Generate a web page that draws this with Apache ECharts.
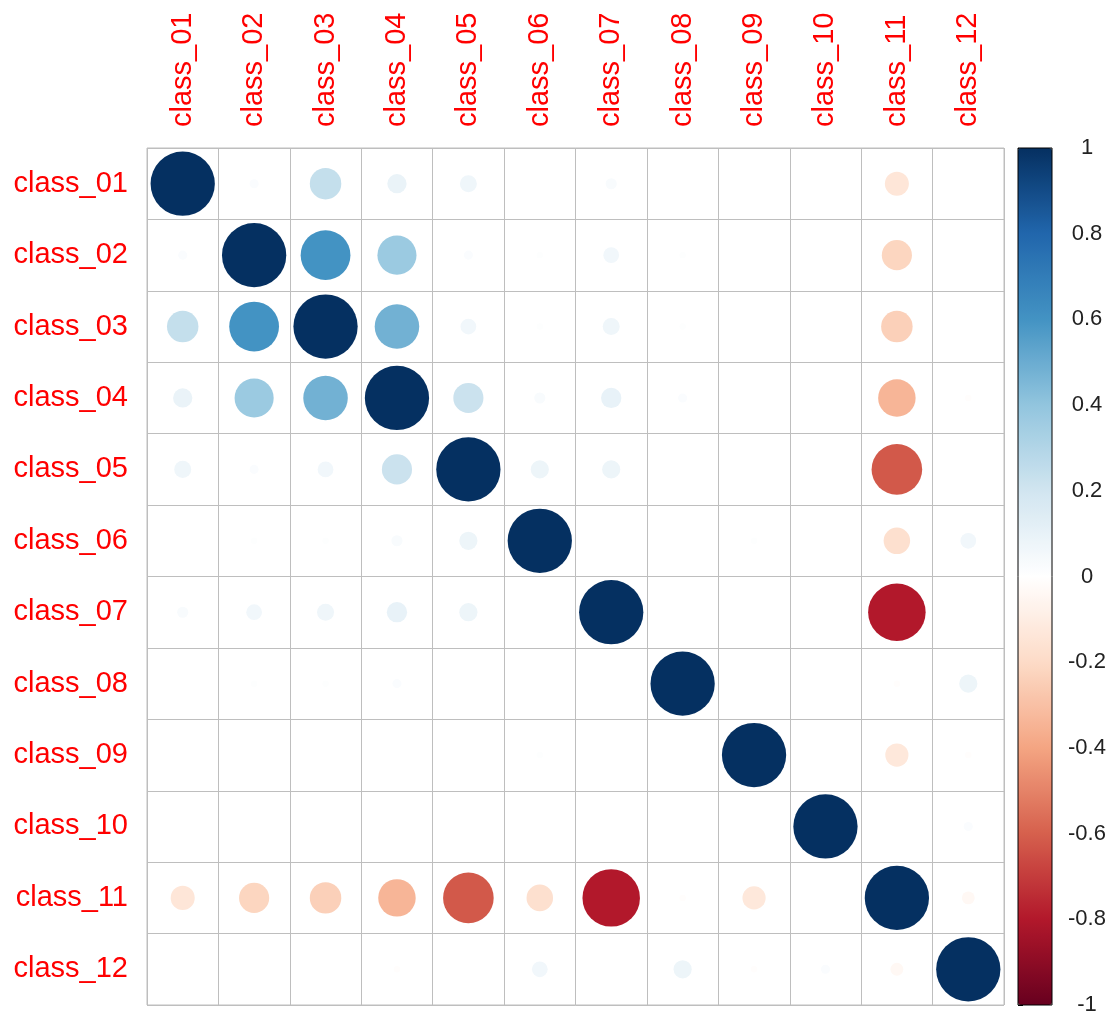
<!DOCTYPE html>
<html>
<head>
<meta charset="utf-8">
<script src="https://cdn.jsdelivr.net/npm/echarts@6/dist/echarts.min.js"></script>
<style>
html,body{margin:0;padding:0;background:#fff;}
#chart{width:1118px;height:1016px;}
</style>
</head>
<body>
<div id="chart"></div>
<script>
const classes = ['class_01','class_02','class_03','class_04','class_05','class_06','class_07','class_08','class_09','class_10','class_11','class_12'];

const r01 = [1, 0.02, 0.24, 0.09, 0.07, 0, 0.03, 0, 0, 0, -0.14, 0];
const r02 = [0.02, 1, 0.60, 0.37, 0.02, 0.01, 0.06, 0.01, 0, 0, -0.22, 0];
const r03 = [0.24, 0.60, 1, 0.48, 0.06, 0.01, 0.07, 0.01, 0, 0, -0.24, 0];
const r04 = [0.09, 0.37, 0.48, 1, 0.22, 0.03, 0.10, 0.02, 0, 0, -0.34, -0.01];
const r05 = [0.07, 0.02, 0.06, 0.22, 1, 0.08, 0.08, 0, 0, 0, -0.62, 0];
const r06 = [0, 0.01, 0.01, 0.03, 0.08, 1, 0, 0, 0.01, 0, -0.17, 0.06];
const r07 = [0.03, 0.06, 0.07, 0.10, 0.08, 0, 1, 0, 0, 0, -0.80, 0];
const r08 = [0, 0.01, 0.01, 0.02, 0, 0, 0, 1, 0, 0, -0.01, 0.08];
const r09 = [0, 0, 0, 0, 0, 0.01, 0, 0, 1, 0, -0.13, -0.01];
const r10 = [0, 0, 0, 0, 0, 0, 0, 0, 0, 1, 0, 0.02];
const r11 = [-0.14, -0.22, -0.24, -0.34, -0.62, -0.17, -0.80, -0.01, -0.13, 0, 1, -0.04];
const r12 = [0, 0, 0, -0.01, 0, 0.06, 0, 0.08, -0.01, 0.02, -0.04, 1];

const rows = [r01, r02, r03, r04, r05, r06, r07, r08, r09, r10, r11, r12];

const palette = ['#67001F','#B2182B','#D6604D','#F4A582','#FDDBC7','#FFFFFF','#D1E5F0','#92C5DE','#4393C3','#2166AC','#053061'];

const GRID_SIZE = 857;
const CELL = GRID_SIZE / classes.length;

const points = [];
rows.forEach(function (row, i) {
  row.forEach(function (v, j) {
    if (v !== 0) points.push([classes[j], classes[i], v]);
  });
});

const chart = echarts.init(document.getElementById('chart'), null, {renderer: 'canvas'});
const labelFont = 'Liberation Sans';

chart.setOption({
  backgroundColor: '#ffffff',
  animation: false,
  grid: [
    {left: 147, top: 148, width: GRID_SIZE, height: GRID_SIZE, show: true, borderColor: '#BEBEBE', borderWidth: 1, backgroundColor: 'transparent'},
    {left: 1018, top: 148, width: 34, height: GRID_SIZE, show: true, borderColor: '#000', borderWidth: 1, backgroundColor: 'transparent', z: 10}
  ],
  xAxis: [
    {
      type: 'category', gridIndex: 0, data: classes, position: 'top',
      axisLine: {show: false}, axisTick: {show: false},
      splitLine: {show: true, interval: 0, lineStyle: {color: '#BEBEBE', width: 1}},
      axisLabel: {rotate: -90, interval: 0, color: '#FF0000', fontSize: 29, fontFamily: labelFont, margin: 21}
    },
    {type: 'value', gridIndex: 1, show: false, min: 0, max: 1}
  ],
  yAxis: [
    {
      type: 'category', gridIndex: 0, data: classes, inverse: true,
      axisLine: {show: false}, axisTick: {show: false},
      splitLine: {show: true, interval: 0, lineStyle: {color: '#BEBEBE', width: 1}},
      axisLabel: {interval: 0, color: '#FF0000', fontSize: 29, fontFamily: labelFont, margin: 19}
    },
    {
      type: 'value', gridIndex: 1, min: -1, max: 1, interval: 0.2, position: 'right',
      axisLine: {show: false},
      axisTick: {show: true, length: 5, lineStyle: {color: '#000', width: 1}},
      splitLine: {show: false},
      axisLabel: {color: '#222', fontSize: 22, fontFamily: labelFont, align: 'center', margin: 35}
    }
  ],
  visualMap: {
    type: 'continuous', min: -1, max: 1, dimension: 2, seriesIndex: 0,
    calculable: false, realtime: false, hoverLink: false,
    left: 1018, top: 148, itemWidth: 34, itemHeight: GRID_SIZE, padding: 0,
    text: null, showLabel: false,
    inRange: {color: palette}
  },
  series: [
    {
      type: 'scatter', xAxisIndex: 0, yAxisIndex: 0,
      data: points,
      symbol: 'circle',
      symbolSize: function (val) { return 0.9 * Math.sqrt(Math.abs(val[2])) * CELL; },
      itemStyle: {opacity: 1},
      z: 3
    }
  ]
});
</script>
</body>
</html>
